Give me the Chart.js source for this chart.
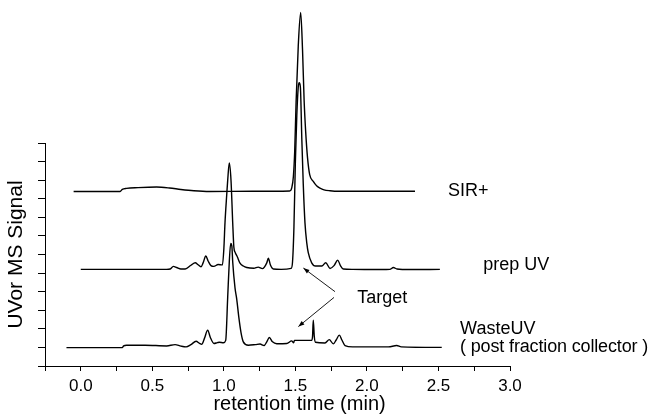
<!DOCTYPE html>
<html><head><meta charset="utf-8">
<script src="https://cdn.jsdelivr.net/npm/chart.js@4.4.1/dist/chart.umd.min.js"></script>
<style>html,body{margin:0;padding:0;background:#fff}#wrap{width:650px;height:414px;position:relative}</style>
</head><body><div id="wrap"><canvas id="c" width="650" height="414"></canvas></div>
<script>
// ---- data (retention time in min, signal in arbitrary offset units) ----
const sirTime   = [-0.05,0.275,0.29,0.32,0.40,0.53,0.62,0.70,0.79,0.90,1.20,1.46,1.475,1.486,1.495,1.505,1.52,1.537,1.55,1.561,1.572,1.585,1.60,1.625,1.65,1.672,1.70,1.742,1.80,2.336];
const sirSignal = [9.39,9.39,9.50,9.56,9.60,9.63,9.58,9.50,9.43,9.39,9.40,9.42,9.6,10.2,11.5,14.2,17.2,19.02,17.0,14.3,12.6,11.2,10.3,9.93,9.68,9.57,9.48,9.43,9.40,9.40];

const prepTime   = [0.00,0.60,0.625,0.647,0.67,0.70,0.73,0.77,0.80,0.82,0.84,0.855,0.874,0.89,0.91,0.93,0.96,0.99,1.00,1.008,1.02,1.027,1.038,1.05,1.062,1.07,1.08,1.094,1.113,1.136,1.16,1.21,1.24,1.27,1.30,1.311,1.325,1.346,1.40,1.47,1.48,1.49,1.50,1.51,1.52,1.527,1.535,1.545,1.555,1.567,1.58,1.59,1.614,1.64,1.685,1.712,1.742,1.77,1.796,1.815,1.835,1.90,2.10,2.16,2.185,2.21,2.30,2.51];
const prepSignal = [5.20,5.20,5.22,5.36,5.30,5.22,5.22,5.42,5.56,5.45,5.34,5.55,5.92,5.65,5.40,5.36,5.46,5.44,6.3,7.7,9.2,10.0,10.92,10.0,7.7,6.4,6.1,5.88,5.53,5.38,5.30,5.26,5.32,5.24,5.55,5.80,5.45,5.22,5.20,5.25,5.6,7.5,11.0,13.5,15.0,15.24,15.0,12.2,9.8,7.7,6.6,6.1,5.55,5.38,5.38,5.56,5.25,5.40,5.70,5.40,5.22,5.20,5.19,5.20,5.30,5.22,5.19,5.20];

const wasteTime   = [-0.10,0.29,0.30,0.32,0.45,0.60,0.659,0.70,0.736,0.77,0.806,0.83,0.845,0.865,0.887,0.905,0.931,0.955,0.969,0.997,1.013,1.027,1.038,1.048,1.056,1.062,1.078,1.09,1.105,1.12,1.136,1.171,1.22,1.253,1.281,1.30,1.318,1.34,1.37,1.44,1.474,1.488,1.493,1.614,1.62,1.625,1.632,1.64,1.707,1.737,1.765,1.785,1.807,1.825,1.847,1.90,2.15,2.208,2.24,2.523];
const wasteSignal = [0.99,0.99,1.08,1.12,1.12,1.08,1.15,1.07,1.03,1.15,1.33,1.22,1.17,1.5,1.93,1.55,1.21,1.26,1.28,1.25,1.38,3.72,5.6,6.6,6.45,5.6,4.2,3.6,2.6,1.8,1.3,1.12,1.15,1.18,1.10,1.3,1.53,1.3,1.2,1.21,1.35,1.25,1.38,1.38,1.6,2.47,1.6,1.28,1.24,1.42,1.19,1.4,1.66,1.4,1.1,1.03,1.03,1.1,1.03,1.0];

const xTickValues = [0.0,0.5,1.0,1.5,2.0,2.5,3.0];
const xTickLabels = ['0.0','0.5','1.0','1.5','2.0','2.5','3.0'];
const traceNames  = ['SIR+','prep UV','WasteUV'];

// ---- build ----
const FONT = '"Liberation Sans", Arial, Helvetica, sans-serif';
const pts = (xs, ys) => xs.map((x, i) => ({x, y: ys[i]}));
const lineStyle = {borderColor:'#000', borderWidth:1.4, pointRadius:0, fill:false, tension:0.3, cubicInterpolationMode:'monotone', clip:false};

const annotations = [
  {text:'SIR+', x:2.567, y:9.16},
  {text:'prep UV', x:2.813, y:5.14},
  {text:'Target', x:1.933, y:3.41},
  {text:'WasteUV', x:2.651, y:1.71},
  {text:'( post fraction collector )', x:2.651, y:0.76, spacing:'-0.15px'}
];
const arrows = [
  {from:[1.777,4.0], to:[1.556,5.27]},
  {from:[1.770,3.69], to:[1.521,2.12]}
];

const annotPlugin = {
  id:'annot',
  afterDraw(chart){
    const {ctx, scales:{x, y}} = chart;
    ctx.save();
    ctx.fillStyle = '#000'; ctx.strokeStyle = '#000';
    ctx.font = '18px ' + FONT;
    ctx.textBaseline = 'alphabetic'; ctx.textAlign = 'left';
    annotations.forEach(a => {
      ctx.letterSpacing = a.spacing || '0px';
      ctx.fillText(a.text, x.getPixelForValue(a.x), y.getPixelForValue(a.y));
    });
    ctx.letterSpacing = '0px';
    ctx.lineWidth = 0.9;
    arrows.forEach(a => {
      const x1 = x.getPixelForValue(a.from[0]), y1 = y.getPixelForValue(a.from[1]);
      const x2 = x.getPixelForValue(a.to[0]),   y2 = y.getPixelForValue(a.to[1]);
      ctx.beginPath(); ctx.moveTo(x1,y1); ctx.lineTo(x2,y2); ctx.stroke();
      const ang = Math.atan2(y2-y1, x2-x1), L = 6, W = 2.2;
      ctx.beginPath(); ctx.moveTo(x2,y2);
      ctx.lineTo(x2 - L*Math.cos(ang) + W*Math.sin(ang), y2 - L*Math.sin(ang) - W*Math.cos(ang));
      ctx.lineTo(x2 - L*Math.cos(ang) - W*Math.sin(ang), y2 - L*Math.sin(ang) + W*Math.cos(ang));
      ctx.closePath(); ctx.fill();
    });
    // x-axis title
    ctx.font = '20px ' + FONT;
    ctx.textAlign = 'center';
    ctx.fillText('retention time (min)', x.getPixelForValue(1.529), chart.height - 4);
    ctx.restore();
  }
};

new Chart(document.getElementById('c'), {
  type:'line',
  data:{datasets:[
    Object.assign({label:traceNames[0], data:pts(sirTime, sirSignal)}, lineStyle),
    Object.assign({label:traceNames[1], data:pts(prepTime, prepSignal)}, lineStyle),
    Object.assign({label:traceNames[2], data:pts(wasteTime, wasteSignal)}, lineStyle)
  ]},
  options:{
    responsive:false, animation:false, devicePixelRatio:1,
    layout:{padding:{top:143, right:140, left:0, bottom:0}},
    plugins:{legend:{display:false}, tooltip:{enabled:false}},
    scales:{
      x:{type:'linear', min:-0.25, max:3.0,
        ticks:{stepSize:0.25, autoSkip:false, maxRotation:0, color:'#000', padding:5,
          font:{family:FONT, size:17},
          callback:(v)=>{ const i = xTickValues.findIndex(t => Math.abs(t - v) < 1e-6); return i >= 0 ? xTickLabels[i] : ''; }},
        grid:{drawOnChartArea:false, drawTicks:true, tickLength:5, color:'#000', lineWidth:1},
        border:{display:true, color:'#000', width:1},
        afterFit(s){ s.height = 48; }
      },
      y:{type:'linear', min:0, max:12,
        ticks:{stepSize:1, callback:()=>'', color:'#000'},
        grid:{drawOnChartArea:false, drawTicks:true, tickLength:7, color:'#000', lineWidth:1},
        border:{display:true, color:'#000', width:1},
        title:{display:true, text:'UVor MS Signal', color:'#000', font:{family:FONT, size:21}, padding:{top:4, bottom:0}},
        afterFit(s){ s.width = 45; }
      }
    }
  },
  plugins:[annotPlugin]
});
</script></body></html>
